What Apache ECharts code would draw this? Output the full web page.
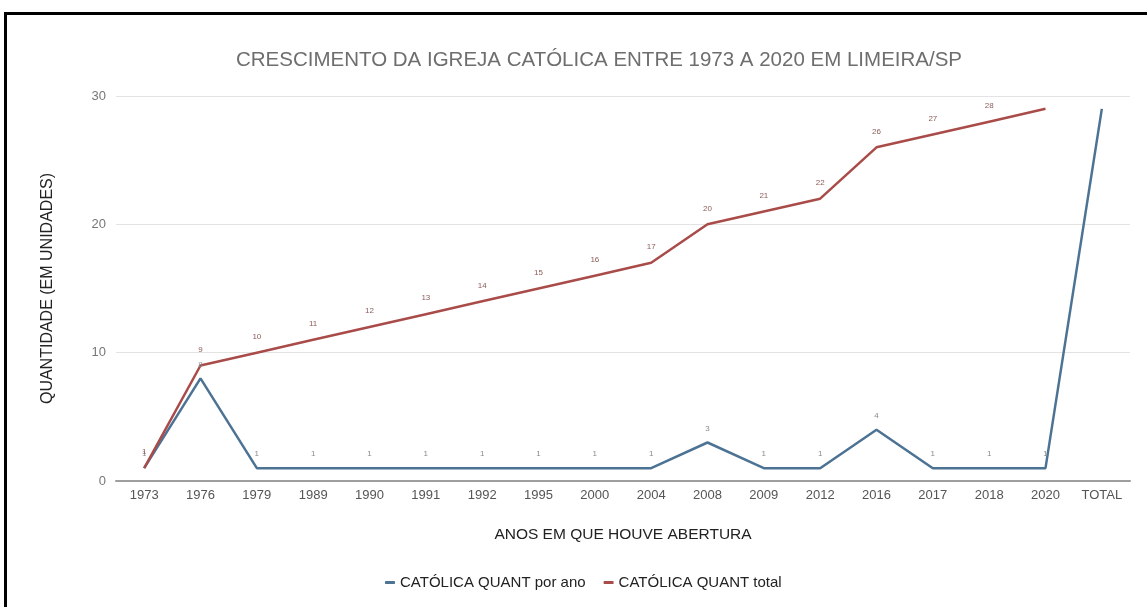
<!DOCTYPE html>
<html>
  <script src="https://cdn.jsdelivr.net/npm/echarts@6/dist/echarts.min.js"></script>
  <head>
    <meta charset="utf-8" />
    <title>Crescimento da Igreja Católica</title>
  </head>
  <body style="margin:0;background:#fff">
    <div id="chart" style="width: 1147px; height: 607px;"></div>
  </body>
  <script>
    var anos = ['1973', '1976', '1979', '1989', '1990', '1991', '1992', '1995', '2000', '2004',
      '2008', '2009', '2012', '2016', '2017', '2018', '2020', 'TOTAL']
    var porAno = [1, 8, 1, 1, 1, 1, 1, 1, 1, 1, 3, 1, 1, 4, 1, 1, 1, 29]
    var total = [1, 9, 10, 11, 12, 13, 14, 15, 16, 17, 20, 21, 22, 26, 27, 28, 29, null]
    var yTicks = [0, 10, 20, 30]

    var myChart = echarts.init(document.getElementById('chart'))
    var fonte = 'Liberation Sans, Arial, sans-serif'

    // labels hidden on the last point of each line, like the original
    function rotulo(n) {
      return function (p) {
        return p.dataIndex >= n ? '' : p.value
      }
    }

    var option = {
      animation: false,
      textStyle: { fontFamily: fonte },
      title: {
        text: 'CRESCIMENTO DA IGREJA CATÓLICA ENTRE 1973 A 2020 EM LIMEIRA/SP',
        left: 594,
        top: 45,
        textAlign: 'center',
        textStyle: { fontSize: 20.5, fontWeight: 'normal', color: '#6e6e6e', fontFamily: fonte }
      },
      graphic: [
        { type: 'rect', shape: { x: 4, y: 12, width: 1143, height: 3 }, style: { fill: '#000' } },
        { type: 'rect', shape: { x: 4, y: 12, width: 3, height: 595 }, style: { fill: '#000' } }
      ],
      legend: {
        top: 570,
        left: 380,
        icon: 'roundRect',
        itemWidth: 10,
        itemHeight: 3,
        itemGap: 18,
        textStyle: { fontSize: 15, color: '#222' },
        data: ['CATÓLICA QUANT por ano', 'CATÓLICA QUANT total']
      },
      grid: { left: 116, right: 17, top: 96, bottom: 126 },
      xAxis: {
        type: 'category',
        data: anos,
        name: 'ANOS EM QUE HOUVE ABERTURA',
        nameLocation: 'middle',
        nameGap: 46,
        nameTextStyle: { fontSize: 15.5, color: '#222' },
        axisLine: { lineStyle: { color: '#9e9e9e', width: 2 } },
        axisTick: { show: false },
        axisLabel: { color: '#555', fontSize: 13, margin: 8 }
      },
      yAxis: {
        type: 'value',
        min: yTicks[0],
        max: yTicks[yTicks.length - 1],
        interval: 10,
        name: 'QUANTIDADE (EM UNIDADES)',
        nameLocation: 'middle',
        nameGap: 60,
        nameTextStyle: { fontSize: 16, color: '#222' },
        axisLine: { show: false },
        axisTick: { show: false },
        axisLabel: { color: '#777', fontSize: 13, margin: 10 },
        splitLine: { lineStyle: { color: '#e3e3e3', width: 1 } }
      },
      series: [
        {
          name: 'CATÓLICA QUANT por ano',
          type: 'line',
          data: porAno,
          symbol: 'circle',
          symbolSize: 0,
          lineStyle: { color: '#4d7394', width: 2.5 },
          itemStyle: { color: '#4d7394' },
          label: {
            show: true,
            position: 'top',
            distance: 10,
            fontSize: 8,
            color: '#8a8a8a',
            formatter: rotulo(17)
          }
        },
        {
          name: 'CATÓLICA QUANT total',
          type: 'line',
          data: total,
          symbol: 'circle',
          symbolSize: 0,
          lineStyle: { color: '#a94c49', width: 2.5 },
          itemStyle: { color: '#a94c49' },
          label: {
            show: true,
            position: 'top',
            distance: 12,
            fontSize: 8,
            color: '#8d5c59',
            formatter: rotulo(16)
          }
        }
      ]
    }
    option && myChart.setOption(option)
  </script>
</html>
